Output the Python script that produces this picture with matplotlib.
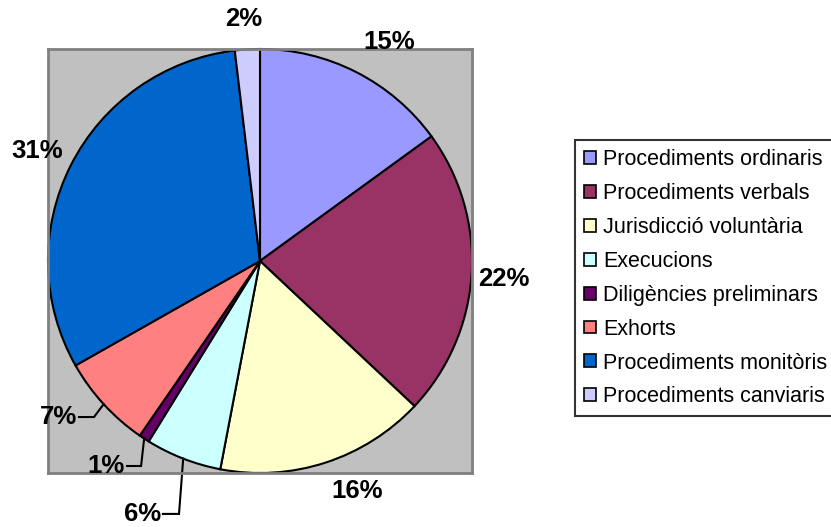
import numpy as np
import matplotlib
matplotlib.use("Agg")
import matplotlib.pyplot as plt

categories = ["Procediments ordinaris", "Procediments verbals", "Jurisdicció voluntària",
              "Execucions", "Diligències preliminars", "Exhorts",
              "Procediments monitòris", "Procediments canviaris"]
values = [15.0, 22.0, 16.0, 5.8, 0.8, 7.2, 31.3, 1.9]
colors = ["#9999FF", "#993366", "#FFFFCC", "#CCFFFF", "#660066", "#FF8080", "#0066CC", "#CCCCFF"]

# label layout (data units, radius = 1)
label_pos = {0: (0.608, 1.033), 1: (1.151, -0.085), 2: (0.458, -1.085),
             6: (-1.052, 0.519), 7: (-0.075, 1.142)}
# leader lines: (bend point, end point) for small slices
leaders = {3: ((-0.382, -1.193), (-0.458, -1.193)),
           4: ((-0.561, -0.967), (-0.627, -0.967)),
           5: ((-0.783, -0.736), (-0.854, -0.736))}

plt.rcParams['font.family'] = ['Liberation Sans', 'DejaVu Sans']

fig = plt.figure(figsize=(8.31, 5.27), dpi=100)
W, H = 831, 527
ax = fig.add_axes([48 / W, (H - 473) / H, 424 / W, 424 / H])

wedges, _ = ax.pie(values, colors=colors, startangle=90, counterclock=False,
                   radius=1.0, center=(0, 0),
                   wedgeprops=dict(edgecolor="black", linewidth=1.5))
ax.set_frame_on(True)
ax.set_facecolor("#C0C0C0")
for s in ax.spines.values():
    s.set_visible(True)
    s.set_color("#808080")
    s.set_linewidth(2)
ax.set_xticks([])
ax.set_yticks([])
ax.set_xlim(-1.0, 1.0)
ax.set_ylim(-1.0, 1.0)
ax.set_aspect('equal')

total = sum(values)
pct = [v / total * 100 for v in values]
for i, w in enumerate(wedges):
    txt = f"{pct[i]:.0f}%"
    if i in label_pos:
        x, y = label_pos[i]
        ax.text(x, y, txt, ha="center", va="center", fontsize=18.5, fontweight="bold",
                clip_on=False)
    elif i in leaders:
        mid = np.deg2rad((w.theta1 + w.theta2) / 2)
        sx, sy = np.cos(mid), np.sin(mid)
        (bx, by), (ex, ey) = leaders[i]
        ax.plot([sx, bx, ex], [sy, by, ey], color="black", lw=1.5, clip_on=False,
                solid_joinstyle="miter")
        ax.text(ex - 0.01, ey, txt, ha="right", va="center", fontsize=18.5,
                fontweight="bold", clip_on=False)

leg = fig.legend(wedges, categories, loc="upper left",
                 bbox_to_anchor=(575 / W, 1 - 140 / H), frameon=True, fancybox=False,
                 fontsize=15.5, handlelength=0.55, handleheight=0.55,
                 handletextpad=0.35, labelspacing=0.6, borderpad=0.42,
                 borderaxespad=0)
leg.get_frame().set_edgecolor("black")
leg.get_frame().set_linewidth(1.5)
for h in leg.legend_handles:
    h.set_edgecolor("black")
    h.set_linewidth(1.2)

fig.savefig("out.png", dpi=100)
